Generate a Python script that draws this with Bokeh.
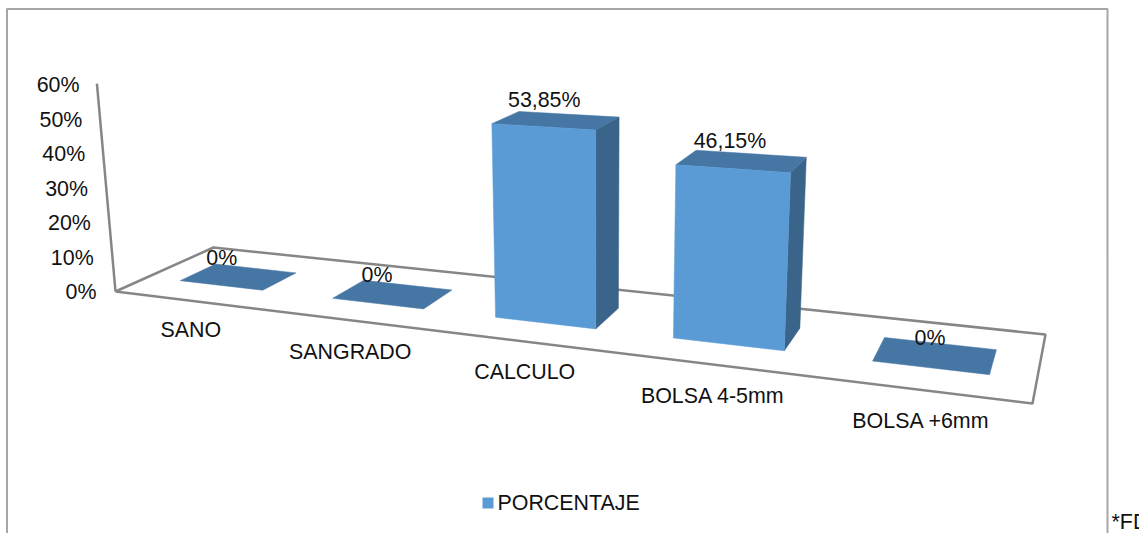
from bokeh.core.properties import value
from bokeh.embed import file_html
from bokeh.models import ColumnDataSource
from bokeh.plotting import figure
from bokeh.resources import INLINE

# Chart data
categories = ["SANO", "SANGRADO", "CALCULO", "BOLSA 4-5mm", "BOLSA +6mm"]
porcentaje = [0.0, 0.0, 53.85, 46.15, 0.0]
value_labels = ["0%", "0%", "53,85%", "46,15%", "0%"]
tick_values = [0, 10, 20, 30, 40, 50, 60]
tick_labels = ["0%", "10%", "20%", "30%", "40%", "50%", "60%"]
series_name = "PORCENTAJE"

WIDTH, HEIGHT = 1139, 533
FONT = value("Liberation Sans")
TEXT_SIZE = "21.4px"
TEXT_COLOR = "#111111"
FRONT, TOP, SIDE = "#5B9BD5", "#4676A4", "#3A6489"
AXIS_COLOR, FRAME_COLOR = "#868686", "#A6A6A6"

# Perspective camera: floor corners on screen plus the lean of the vertical direction.
P00, P10, P11, P01 = (115, 291), (1032, 403), (1045, 334), (213, 247)
sx = P00[0] - P10[0] + P11[0] - P01[0]
sy = P00[1] - P10[1] + P11[1] - P01[1]
dx1, dx2 = P10[0] - P11[0], P01[0] - P11[0]
dy1, dy2 = P10[1] - P11[1], P01[1] - P11[1]
det = dx1 * dy2 - dx2 * dy1
G = (sx * dy2 - dx2 * sy) / det
H = (dx1 * sy - sx * dy1) / det
AX, BX = P10[0] - P00[0] + G * P10[0], P01[0] - P00[0] + H * P01[0]
AY, BY = P10[1] - P00[1] + G * P10[1], P01[1] - P00[1] + H * P01[1]
KZ, MX, NY = -0.036, -21.5, -204.9
Z_FULL = 60.0
AXIS_TOP = 61.8
N_CAT = len(categories)


def project(u, d, z=0.0):
    """Map category position u, depth d (0..1) and value z to screen pixels."""
    s, t = u / N_CAT, z / Z_FULL
    w = 1 + G * s + H * d + KZ * t
    return ((AX * s + BX * d + P00[0] + MX * t) / w,
            (AY * s + BY * d + P00[1] + NY * t) / w)


def quad(*corners):
    pts = [project(*c) for c in corners]
    return [pt[0] for pt in pts], [pt[1] for pt in pts]


p = figure(width=WIDTH, height=HEIGHT, output_backend="svg", toolbar_location=None,
           x_range=(0, WIDTH), y_range=(HEIGHT, 0), min_border=0, tools="")
p.xaxis.visible = False
p.yaxis.visible = False
p.xgrid.visible = False
p.ygrid.visible = False
p.outline_line_color = None
p.background_fill_color = "white"
p.border_fill_color = "white"

# Chart area border, open at the bottom of the page
p.line([6.5, 6.5, 1107, 1107], [HEIGHT, 8.5, 8.5, HEIGHT], line_color=FRAME_COLOR, line_width=2)

# Floor outline and value axis
fx, fy = quad((0, 0), (N_CAT, 0), (N_CAT, 1), (0, 1), (0, 0))
p.line(fx, fy, line_color=AXIS_COLOR, line_width=2.5)
ax, ay = quad((0, 0, 0), (0, 0, AXIS_TOP))
p.line(ax, ay, line_color=AXIS_COLOR, line_width=2.5)

# Value tick labels run parallel to the leaning axis
tick_src = ColumnDataSource(dict(
    x=[96 - v * 17 / Z_FULL for v in tick_values],
    y=[291.5 - v * 3.45 for v in tick_values],
    t=tick_labels))
p.text("x", "y", text="t", source=tick_src, text_font=FONT, text_font_size=TEXT_SIZE,
       text_color=TEXT_COLOR, text_align="right", text_baseline="middle")

# Bars: side, top and front faces, each derived from the value
BAR_LEFT = [0.23, 1.26, 2.26, 3.25, 4.25]
BAR_RIGHT = [0.80, 1.83, 2.83, 3.82, 4.79]
D0, D1 = 0.31, 0.68
for v, l, r in zip(porcentaje, BAR_LEFT, BAR_RIGHT):
    if v > 0:
        xs, ys = quad((r, D0, 0), (r, D1, 0), (r, D1, v), (r, D0, v))
        p.patch(xs, ys, fill_color=SIDE, line_color=SIDE, line_width=0.5)
    xs, ys = quad((l, D0, v), (r, D0, v), (r, D1, v), (l, D1, v))
    p.patch(xs, ys, fill_color=TOP, line_color=TOP, line_width=0.5)
    if v > 0:
        xs, ys = quad((l, D0, 0), (r, D0, 0), (r, D0, v), (l, D0, v))
        p.patch(xs, ys, fill_color=FRONT, line_color=FRONT, line_width=0.5)

# Data labels sit just above each bar's top face
label_nudge = [(-15, -18), (-9, -18), (-4, -20), (-5, -19), (-1, -17)]
centers = [project(i + 0.5, 0.5, v) for i, v in enumerate(porcentaje)]
label_src = ColumnDataSource(dict(
    x=[c[0] + n[0] for c, n in zip(centers, label_nudge)],
    y=[c[1] + n[1] for c, n in zip(centers, label_nudge)],
    t=value_labels))
p.text("x", "y", text="t", source=label_src, text_font=FONT, text_font_size=TEXT_SIZE,
       text_color=TEXT_COLOR, text_align="center", text_baseline="middle")

# Category labels hang below the front edge of the floor
cat_nudge = [(3, 30), (7, 33), (10, 32), (8, 33), (4, 32)]
edges = [project(i + 0.5, 0) for i in range(N_CAT)]
cat_src = ColumnDataSource(dict(
    x=[e[0] + n[0] for e, n in zip(edges, cat_nudge)],
    y=[e[1] + n[1] for e, n in zip(edges, cat_nudge)],
    t=categories))
p.text("x", "y", text="t", source=cat_src, text_font=FONT, text_font_size=TEXT_SIZE,
       text_color=TEXT_COLOR, text_align="center", text_baseline="middle")

# Legend
p.scatter([487.5], [502.5], marker="square", size=11, fill_color=FRONT, line_color=None)
p.text([497], [502.5], text=[series_name], text_font=FONT, text_font_size=TEXT_SIZE,
       text_color=TEXT_COLOR, text_align="left", text_baseline="middle")

# Source footnote running off the right edge of the page
p.text([1111], [521.5], text=["*FD"], text_font=FONT, text_font_size=TEXT_SIZE,
       text_color=TEXT_COLOR, text_align="left", text_baseline="middle")

open("out.html", "w").write(file_html(p, INLINE))
